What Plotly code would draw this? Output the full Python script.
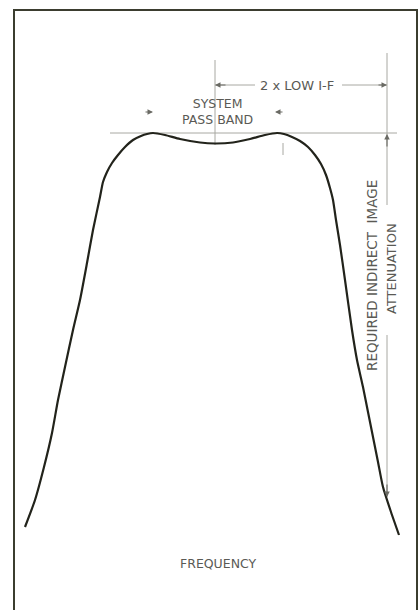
import plotly.graph_objects as go

# Selectivity curve: frequency offset from centre (arbitrary units) vs attenuation below peak (arbitrary units)
freq = [-190, -180, -171, -163, -157, -150, -142, -135, -128, -122, -115, -112, -108, -103, -97,
        -90, -82, -74, -68, -62, -50, -35, -15, 0, 18, 35, 50, 62, 69, 77, 85, 93, 100, 106,
        111, 115, 118, 121, 125, 130, 137, 142, 148, 153, 158, 163, 168, 176, 184]
atten = [394, 367, 334, 300, 267, 234, 197, 167, 130, 97, 64, 49, 39, 30, 22,
         14, 7, 3, 1, 0, 2, 6, 9.5, 10.5, 9.5, 6, 2, 0, 1, 4, 8, 14, 22, 31,
         42, 55, 67, 87, 112, 147, 197, 227, 254, 279, 304, 329, 354, 379, 402]

# Reference markers (same units)
passband_edges = [-62, 60]
low_if_span = [0, 172]
label_texts = {
    "sys": "SYSTEM<br>PASS BAND",
    "lowif": "2 x LOW I-F",
    "req": "REQUIRED INDIRECT  IMAGE",
    "att": "ATTENUATION",
    "freq": "FREQUENCY",
}

W, H = 420, 610
TXT = "#5a5a55"
GRID = "#a8a8a2"
FONT = "DejaVu Sans"

fig = go.Figure()

# thin reference lines
ref_lines = [
    ([-105, 182], [0, 0]),                      # peak level line
    ([0, 0], [-73, 12]),                        # centre line
    ([low_if_span[1]] * 2, [-80, 72]),          # right dimension line upper
    ([low_if_span[1]] * 2, [202, 364]),         # right dimension line lower
    ([0, 40], [-48, -48]),                      # 2x low IF left leg
    ([127, low_if_span[1]], [-48, -48]),        # 2x low IF right leg
    ([68, 68], [10, 22]),                       # extension tick
]
for xs, ys in ref_lines:
    fig.add_trace(go.Scatter(x=xs, y=ys, mode="lines",
                             line=dict(color=GRID, width=1), hoverinfo="skip"))

# main curve
fig.add_trace(go.Scatter(x=freq, y=atten, mode="lines",
                         line=dict(color="#22231b", width=2.2, shape="spline", smoothing=0.6),
                         hoverinfo="skip"))

ann = []
def arrow(x, y, ax, ay):
    ann.append(dict(x=x, y=y, ax=ax, ay=ay, xref="x", yref="y", axref="pixel", ayref="pixel",
                    text="", showarrow=True, arrowhead=2, arrowsize=1, arrowwidth=1.1,
                    arrowcolor="#6a6a64"))

arrow(low_if_span[0], -48, 12, 0)
arrow(low_if_span[1], -48, -10, 0)
arrow(passband_edges[0], -21, -9, 0)
arrow(passband_edges[1], -21, 9, 0)
arrow(low_if_span[1], 1, 0, 14)
arrow(low_if_span[1], 364, 0, -14)

def text(x, y, s, angle=0, size=12.5):
    ann.append(dict(x=x, y=y, xref="x", yref="y", text=s, showarrow=False, textangle=angle,
                    font=dict(family=FONT, size=size, color=TXT), align="center"))

text(2, -22, label_texts["sys"])
text(82, -48, label_texts["lowif"], size=13)
text(157, 143, label_texts["req"], angle=-90, size=13.5)
text(176, 136, label_texts["att"], angle=-90, size=13)
text(3, 430, label_texts["freq"], size=12.5)

fig.update_layout(
    width=W, height=H,
    margin=dict(l=0, r=0, t=0, b=0),
    paper_bgcolor="white", plot_bgcolor="white",
    showlegend=False,
    xaxis=dict(range=[-215, 205], visible=False, fixedrange=True),
    yaxis=dict(range=[477, -133], visible=False, fixedrange=True),
    annotations=ann,
    shapes=[dict(type="rect", xref="paper", yref="paper",
                 x0=14 / W, x1=417 / W, y0=-0.02, y1=1 - 10 / H,
                 line=dict(color="#3b3d2f", width=2))],
)

fig.write_html("out.html", config={"displayModeBar": False},
               post_script="document.body.style.margin='0';document.body.style.overflow='hidden';")
